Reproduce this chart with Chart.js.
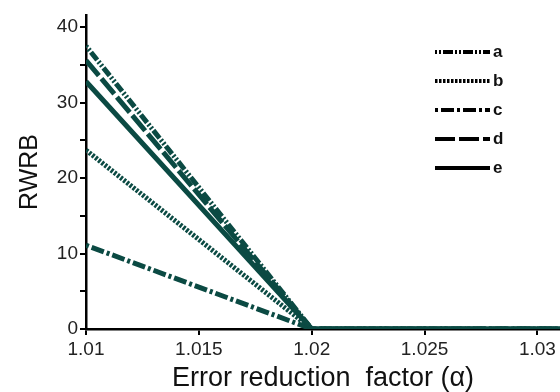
<!DOCTYPE html>
<html>
<head>
<meta charset="utf-8">
<script src="https://cdn.jsdelivr.net/npm/chart.js@4"></script>
<style>
  html, body { margin: 0; padding: 0; background: #fff; }
  #wrap { width: 560px; height: 392px; }
</style>
</head>
<body>
<div id="wrap"><canvas id="chart"></canvas></div>
<script>
const alphaValues = [1.01, 1.02, 1.031];
const seriesNames = ['a', 'b', 'c', 'd', 'e'];
const seriesA = [37.5, 0, 0];
const seriesB = [23.7, 0, 0];
const seriesC = [11.1, 0, 0];
const seriesD = [35.6, 0, 0];
const seriesE = [32.8, 0, 0];
const xTicks = [1.01, 1.015, 1.02, 1.025, 1.03];
const yTicks = [0, 5, 10, 15, 20, 25, 30, 35, 40];

const lineColor = '#0b4a43';
const FONT = '"Liberation Sans", Arial, sans-serif';
const dashes = [
  [2, 2, 2, 2, 10, 2],
  [2.5, 1.5],
  [3, 3, 13, 3],
  [20, 4],
  []
];

function points(values) {
  return values.map((v, i) => ({ x: alphaValues[i], y: v }));
}

const allSeries = [seriesA, seriesB, seriesC, seriesD, seriesE];

// legend drawn inside the plot, top right, black samples
const innerLegend = {
  id: 'innerLegend',
  afterDraw(chart) {
    const ctx = chart.ctx;
    const area = chart.chartArea;
    const x0 = area.right - 125;
    const x1 = area.right - 70;
    chart.data.datasets.forEach((ds, i) => {
      const y = area.top + 37 + i * 29;
      ctx.save();
      ctx.strokeStyle = '#000';
      ctx.lineWidth = 4;
      ctx.setLineDash(ds.borderDash);
      ctx.beginPath();
      ctx.moveTo(x0, y);
      ctx.lineTo(x1, y);
      ctx.stroke();
      ctx.setLineDash([]);
      ctx.fillStyle = '#111';
      ctx.font = 'bold 17px ' + FONT;
      ctx.textBaseline = 'middle';
      ctx.fillText(ds.label, x1 + 3, y);
      ctx.restore();
    });
  }
};

new Chart(document.getElementById('chart'), {
  type: 'line',
  data: {
    datasets: seriesNames.map((name, i) => ({
      label: name,
      data: points(allSeries[i]),
      borderColor: lineColor,
      borderWidth: 5,
      borderDash: dashes[i],
      borderCapStyle: 'butt',
      pointRadius: 0,
      fill: false,
      tension: 0
    }))
  },
  options: {
    responsive: true,
    maintainAspectRatio: false,
    animation: false,
    layout: { padding: { top: 15, right: 0, left: 0, bottom: 0 } },
    plugins: {
      legend: { display: false },
      tooltip: { enabled: false }
    },
    scales: {
      x: {
        type: 'linear',
        min: 1.01,
        max: 1.031,
        afterBuildTicks: s => { s.ticks = xTicks.map(v => ({ value: v })); },
        afterFit: s => { s.height = 63; },
        ticks: {
          color: '#222',
          font: { family: FONT, size: 19 },
          padding: 3,
          maxRotation: 0,
          callback: v => String(v)
        },
        grid: { drawOnChartArea: false, drawTicks: true, tickLength: 6, color: '#000', lineWidth: 2 },
        border: { display: true, color: '#000', width: 2.5 },
        title: {
          display: true,
          text: 'Error reduction  factor (α)',
          color: '#111',
          font: { family: FONT, size: 27, lineHeight: 1 },
          padding: { top: 0, bottom: 0 }
        }
      },
      y: {
        min: 0,
        max: 41.6,
        afterBuildTicks: s => { s.ticks = yTicks.map(v => ({ value: v })); },
        afterFit: s => { s.width = 86; },
        ticks: {
          color: '#222',
          font: { family: FONT, size: 19 },
          padding: 2,
          callback: v => (v % 10 === 0 ? String(v) : '')
        },
        grid: { drawOnChartArea: false, drawTicks: true, tickLength: 6, color: '#000', lineWidth: 2 },
        border: { display: true, color: '#000', width: 2.5 },
        title: {
          display: true,
          text: 'RWRB',
          color: '#111',
          font: { family: FONT, size: 25, lineHeight: 1 },
          padding: { top: 18, bottom: 0 }
        }
      }
    }
  },
  plugins: [innerLegend]
});
</script>
</body>
</html>
